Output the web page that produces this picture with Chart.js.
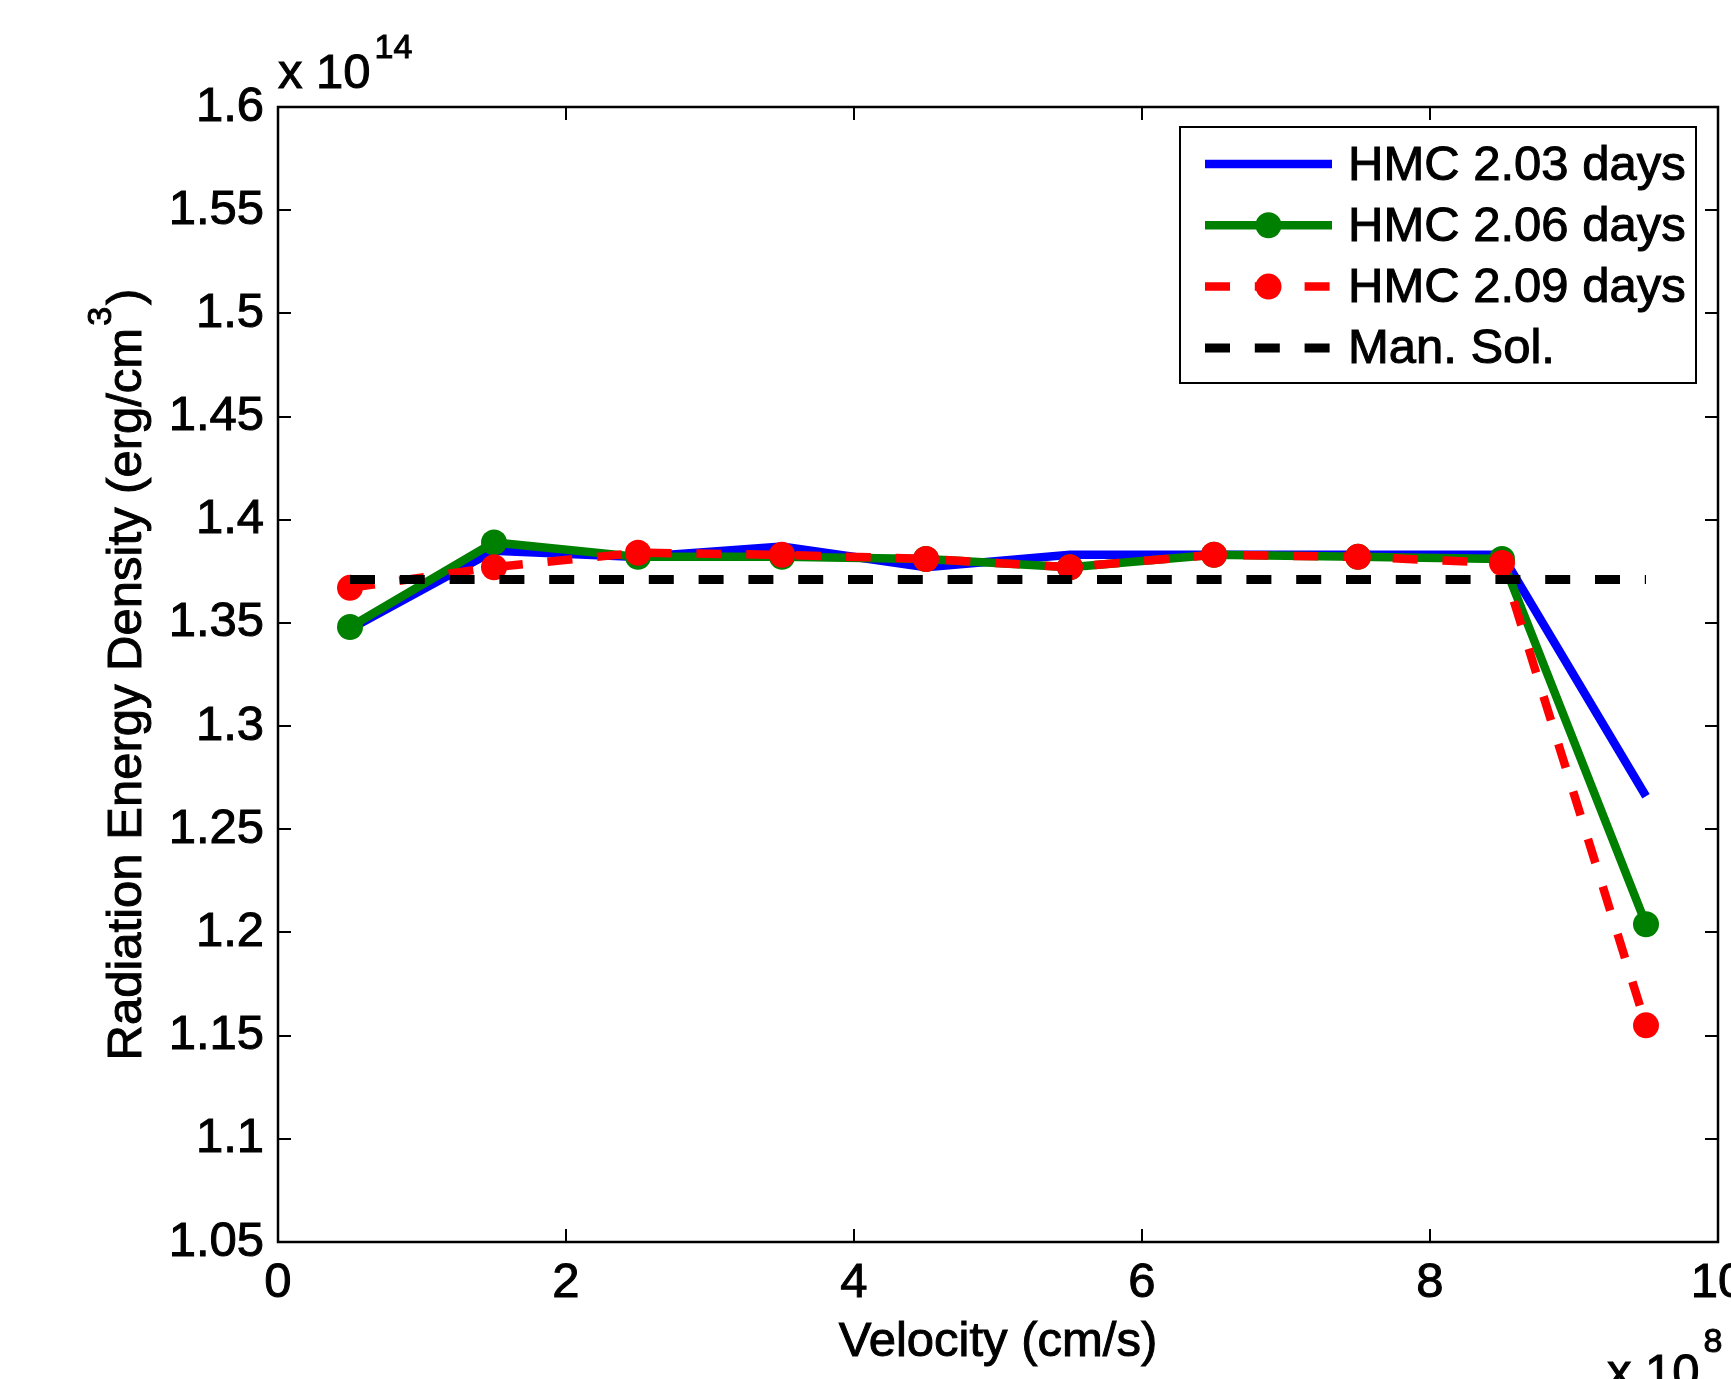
<!DOCTYPE html>
<html>
<head>
<meta charset="utf-8">
<script src="https://cdn.jsdelivr.net/npm/chart.js@4"></script>
<style>
  html, body { margin: 0; padding: 0; background: #fff; }
  canvas { display: block; }
</style>
</head>
<body>
<canvas id="chart" width="1731" height="1379"></canvas>
<script>
// velocity in units of 10^8 cm/s, energy density in units of 10^14 erg/cm^3
const velocity = [0.5, 1.5, 2.5, 3.5, 4.5, 5.5, 6.5, 7.5, 8.5, 9.5];
const hmc203 = [1.347, 1.385, 1.382, 1.387, 1.377, 1.383, 1.383, 1.383, 1.383, 1.266];
const hmc206 = [1.348, 1.389, 1.382, 1.382, 1.381, 1.377, 1.383, 1.382, 1.381, 1.204];
const hmc209 = [1.367, 1.377, 1.384, 1.383, 1.381, 1.377, 1.383, 1.382, 1.379, 1.155];
const manSol = [1.371, 1.371, 1.371, 1.371, 1.371, 1.371, 1.371, 1.371, 1.371, 1.371];
const seriesNames = ["HMC 2.03 days", "HMC 2.06 days", "HMC 2.09 days", "Man. Sol."];

const xTicks = [0, 2, 4, 6, 8, 10];
const xTickLabels = ["0", "2", "4", "6", "8", "10"];
const yTicks = [1.05, 1.1, 1.15, 1.2, 1.25, 1.3, 1.35, 1.4, 1.45, 1.5, 1.55, 1.6];
const yTickLabels = ["1.05", "1.1", "1.15", "1.2", "1.25", "1.3", "1.35", "1.4", "1.45", "1.5", "1.55", "1.6"];

const FONT = '"Liberation Sans", Arial, Helvetica, sans-serif';
const FS = 49;

function toPoints(arr) {
    return velocity.map((v, i) => ({ x: v, y: arr[i] }));
}

// fill plus a thin stroke, the reference text is a bit heavier
function text(ctx, s, x, y) {
    ctx.fillText(s, x, y);
    ctx.strokeText(s, x, y);
}

// draws box, inward ticks, exponents, axis titles and the legend
const matlabLook = {
    id: "matlabLook",
    afterDraw(chart) {
        const ctx = chart.ctx;
        const a = chart.chartArea;
        const xs = chart.scales.x;
        const ys = chart.scales.y;
        ctx.save();

        // ticks pointing inward
        ctx.strokeStyle = "#000";
        ctx.lineWidth = 2;
        ctx.beginPath();
        xTicks.forEach(t => {
            const px = Math.round(xs.getPixelForValue(t));
            ctx.moveTo(px, a.bottom); ctx.lineTo(px, a.bottom - 13);
            ctx.moveTo(px, a.top); ctx.lineTo(px, a.top + 13);
        });
        yTicks.forEach(t => {
            const py = Math.round(ys.getPixelForValue(t));
            ctx.moveTo(a.left, py); ctx.lineTo(a.left + 13, py);
            ctx.moveTo(a.right, py); ctx.lineTo(a.right - 13, py);
        });
        ctx.stroke();

        // axes box
        ctx.lineWidth = 2.5;
        ctx.strokeRect(a.left, a.top, a.right - a.left, a.bottom - a.top);

        ctx.fillStyle = "#000";
        ctx.strokeStyle = "#000";
        ctx.lineWidth = 1;
        ctx.textBaseline = "alphabetic";
        ctx.textAlign = "left";

        // exponent labels
        ctx.font = FS + "px " + FONT;
        text(ctx, "x 10", a.left, 88);
        const w14 = ctx.measureText("x 10").width;
        ctx.font = "34px " + FONT;
        text(ctx, "14", a.left + w14 + 4, 58);

        ctx.font = FS + "px " + FONT;
        text(ctx, "x 10", 1607, 1388);
        const w8 = ctx.measureText("x 10").width;
        ctx.font = "34px " + FONT;
        text(ctx, "8", 1607 + w8 + 4, 1352);

        // x axis title
        ctx.font = FS + "px " + FONT;
        ctx.textAlign = "center";
        text(ctx, "Velocity (cm/s)", (a.left + a.right) / 2, 1356);

        // y axis title with superscript
        const p1 = "Radiation Energy Density (erg/cm";
        const p2 = "3";
        const p3 = ")";
        ctx.font = FS + "px " + FONT;
        const w1 = ctx.measureText(p1).width;
        const w3 = ctx.measureText(p3).width;
        ctx.font = "34px " + FONT;
        const w2 = ctx.measureText(p2).width;
        const total = w1 + w2 + 4 + w3;
        ctx.translate(141, (a.top + a.bottom) / 2);
        ctx.rotate(-Math.PI / 2);
        ctx.textAlign = "left";
        let cx = -total / 2;
        ctx.font = FS + "px " + FONT;
        text(ctx, p1, cx, 0);
        cx += w1 + 2;
        ctx.font = "34px " + FONT;
        text(ctx, p2, cx, -30);
        cx += w2 + 2;
        ctx.font = FS + "px " + FONT;
        text(ctx, p3, cx, 0);
        ctx.setTransform(1, 0, 0, 1, 0, 0);

        // legend
        const lg = { left: a.right - 538, top: a.top + 20, right: a.right - 22, bottom: a.top + 276 };
        ctx.fillStyle = "#fff";
        ctx.fillRect(lg.left, lg.top, lg.right - lg.left, lg.bottom - lg.top);
        ctx.strokeStyle = "#000";
        ctx.lineWidth = 2;
        ctx.strokeRect(lg.left, lg.top, lg.right - lg.left, lg.bottom - lg.top);
        chart.data.datasets.forEach((ds, i) => {
            const y = lg.top + 37 + i * 61.3;
            const x0 = lg.left + 25, x1 = lg.left + 152;
            ctx.save();
            ctx.strokeStyle = ds.borderColor;
            ctx.lineWidth = ds.borderWidth;
            ctx.lineCap = "butt";
            ctx.setLineDash(ds.borderDash || []);
            ctx.beginPath();
            ctx.moveTo(x0, y); ctx.lineTo(x1, y);
            ctx.stroke();
            ctx.setLineDash([]);
            if (ds.pointRadius > 0) {
                ctx.fillStyle = ds.pointBackgroundColor;
                ctx.beginPath();
                ctx.arc((x0 + x1) / 2, y, ds.pointRadius, 0, Math.PI * 2);
                ctx.fill();
            }
            ctx.restore();
            ctx.fillStyle = "#000";
            ctx.strokeStyle = "#000";
            ctx.lineWidth = 1;
            ctx.font = FS + "px " + FONT;
            ctx.textAlign = "left";
            ctx.textBaseline = "middle";
            text(ctx, seriesNames[i], lg.left + 168, y + 2);
        });
        ctx.restore();
    }
};

const ctx = document.getElementById("chart").getContext("2d");
const chart = new Chart(ctx, {
    type: "line",
    data: {
        datasets: [
            {
                label: seriesNames[0],
                data: toPoints(hmc203),
                borderColor: "#0000ff",
                borderWidth: 8.5,
                pointRadius: 0,
                order: 3
            },
            {
                label: seriesNames[1],
                data: toPoints(hmc206),
                borderColor: "#008000",
                borderWidth: 8.5,
                pointRadius: 13,
                pointBackgroundColor: "#008000",
                pointBorderWidth: 0,
                order: 2
            },
            {
                label: seriesNames[2],
                data: toPoints(hmc209),
                borderColor: "#ff0000",
                borderWidth: 8.5,
                borderDash: [25, 24.8],
                pointRadius: 13,
                pointBackgroundColor: "#ff0000",
                pointBorderWidth: 0,
                order: 1
            },
            {
                label: seriesNames[3],
                data: toPoints(manSol),
                borderColor: "#000000",
                borderWidth: 9,
                borderDash: [25, 24.8],
                pointRadius: 0,
                order: 0
            }
        ]
    },
    options: {
        responsive: false,
        devicePixelRatio: 1,
        animation: false,
        layout: { padding: { left: 0, top: 107, right: 12, bottom: 0 } },
        plugins: {
            legend: { display: false },
            tooltip: { enabled: false }
        },
        elements: { line: { tension: 0, borderCapStyle: "butt" } },
        scales: {
            x: {
                type: "linear",
                min: 0,
                max: 10,
                grid: { display: false, drawTicks: false },
                border: { display: false },
                afterBuildTicks: s => { s.ticks = xTicks.map(v => ({ value: v })); },
                afterFit: s => { s.height = 137; s.paddingLeft = 0; s.paddingRight = 0; },
                ticks: {
                    autoSkip: false,
                    maxRotation: 0,
                    padding: 12,
                    color: "#000",
                    textStrokeColor: "#000",
                    textStrokeWidth: 1,
                    font: { family: FONT, size: FS },
                    callback: (v, i) => xTickLabels[i]
                }
            },
            y: {
                type: "linear",
                min: 1.05,
                max: 1.6,
                grid: { display: false, drawTicks: false },
                border: { display: false },
                afterBuildTicks: s => { s.ticks = yTicks.map(v => ({ value: v })); },
                afterFit: s => { s.width = 278; s.paddingTop = 0; s.paddingBottom = 0; },
                ticks: {
                    autoSkip: false,
                    padding: 14,
                    color: "#000",
                    textStrokeColor: "#000",
                    textStrokeWidth: 1,
                    font: { family: FONT, size: FS },
                    callback: (v, i) => yTickLabels[i]
                }
            }
        }
    },
    plugins: [matlabLook]
});
</script>
</body>
</html>
